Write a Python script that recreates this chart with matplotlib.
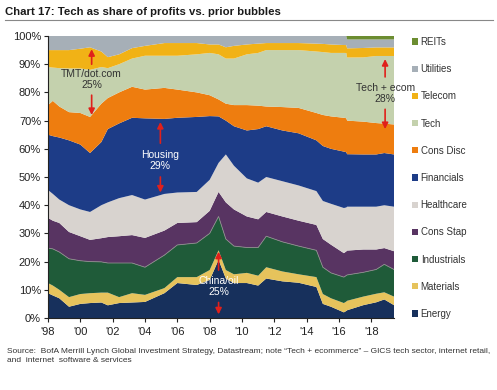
import numpy as np
import matplotlib
matplotlib.use("Agg")
import matplotlib.pyplot as plt
from matplotlib import font_manager

# ---------------- data (share of profits, %) ----------------
years = [1998.0, 1998.3, 1998.7, 1999.3, 2000.0, 2000.6, 2001.3, 2001.7, 2002.4,
         2003.2, 2004.0, 2005.2, 2006.0, 2007.2, 2008.0, 2008.55, 2009.0, 2009.5,
         2010.3, 2011.0, 2011.5, 2012.5, 2013.5, 2014.6, 2015.0, 2015.5, 2016.3,
         2016.45, 2016.5, 2017.5, 2018.3, 2018.8, 2019.4]

energy      = [8.8, 8.0, 7.0, 4.0, 5.0, 5.3, 5.5, 4.5, 5.3, 5.5, 5.7, 8.8, 12.4, 11.7, 13.5, 20.6, 14.0, 12.4,
               12.4, 11.5, 14.0, 13.0, 12.5, 11.0, 5.0, 4.0, 2.0, 2.5, 2.7, 4.5, 5.5, 6.5, 4.5]
materials   = [3.6, 3.5, 3.0, 3.4, 3.5, 3.5, 3.5, 4.5, 2.1, 3.3, 2.5, 1.8, 2.1, 2.8, 3.5, 3.4, 3.0, 3.1,
               3.6, 3.5, 4.0, 3.5, 3.0, 3.5, 3.5, 3.0, 3.3, 3.3, 3.3, 3.0, 3.0, 2.5, 3.0]
industrials = [12.4, 13.0, 13.4, 13.6, 11.8, 11.2, 10.9, 10.5, 12.1, 10.7, 9.8, 11.7, 11.4, 12.1, 13.0, 12.0, 11.0, 10.0,
               9.0, 10.0, 11.0, 10.5, 10.0, 9.5, 9.5, 9.0, 9.2, 9.2, 9.0, 8.5, 8.5, 9.8, 9.5]
cons_stap   = [10.7, 10.0, 10.3, 9.5, 8.7, 7.7, 8.4, 9.2, 9.5, 9.9, 10.4, 8.7, 7.8, 7.4, 8.0, 8.7, 13.0, 13.0,
               11.0, 10.0, 8.6, 9.0, 9.0, 9.0, 10.0, 10.0, 8.5, 8.5, 8.5, 8.0, 7.0, 5.7, 6.4]
healthcare  = [9.9, 9.5, 8.3, 9.5, 9.5, 9.9, 11.7, 12.3, 13.5, 14.2, 13.6, 13.0, 10.8, 10.7, 11.0, 10.3, 17.0, 15.5,
               13.5, 13.0, 12.4, 12.5, 12.5, 12.0, 13.5, 14.5, 16.0, 15.5, 15.3, 15.0, 15.0, 15.0, 15.6]
financials  = [19.6, 20.5, 22.0, 23.0, 23.0, 20.9, 22.4, 26.0, 26.5, 27.4, 28.8, 26.6, 26.5, 26.6, 22.6, 16.5, 12.0, 14.0,
               17.0, 19.0, 18.0, 18.0, 18.5, 18.0, 19.5, 19.5, 20.0, 19.5, 18.3, 18.3, 18.3, 18.3, 18.3]
cons_disc   = [10.5, 12.5, 11.0, 10.0, 11.2, 12.8, 13.6, 11.0, 11.0, 11.0, 10.2, 11.0, 10.0, 8.7, 7.4, 6.0, 6.0, 7.5,
               9.0, 8.3, 7.0, 8.3, 9.0, 9.7, 11.0, 11.5, 12.0, 12.0, 11.7, 11.5, 11.0, 10.3, 10.5]
tech        = [13.5, 11.8, 13.6, 15.5, 15.8, 16.7, 13.0, 10.6, 10.0, 10.0, 12.0, 11.4, 12.0, 13.5, 15.0, 16.0, 16.0, 16.5,
               18.0, 18.7, 20.0, 20.2, 20.5, 21.8, 22.3, 22.5, 23.0, 23.0, 22.0, 22.5, 23.5, 23.7, 24.0]
telecom     = [6.0, 6.2, 6.4, 6.5, 7.0, 8.0, 5.5, 3.9, 3.5, 3.7, 3.5, 4.5, 4.5, 4.0, 3.0, 3.5, 4.0, 4.5,
               3.5, 3.3, 2.5, 2.5, 2.5, 2.8, 2.9, 3.0, 2.8, 2.8, 3.2, 3.3, 3.0, 3.0, 3.0]
utilities   = [5.0, 5.0, 5.0, 5.0, 4.5, 4.0, 5.5, 7.5, 6.5, 4.3, 3.5, 2.5, 2.5, 2.5, 3.0, 3.0, 4.0, 3.5,
               3.0, 2.7, 2.5, 2.5, 2.5, 2.7, 2.8, 3.0, 3.2, 3.2, 3.1, 3.0, 2.8, 2.8, 2.8]
reits       = [0, 0, 0, 0, 0, 0, 0, 0, 0, 0, 0, 0, 0, 0, 0, 0, 0, 0,
               0, 0, 0, 0, 0, 0, 0, 0, 0, 0, 1.2, 1.2, 1.2, 1.2, 1.2]

sector_names = ["Energy", "Materials", "Industrials", "Cons Stap", "Healthcare", "Financials",
                "Cons Disc", "Tech", "Telecom", "Utilities", "REITs"]
sector_colors = ["#17305c", "#e6c35c", "#1f5b39", "#583462", "#d8d3cf", "#1d3c87",
                 "#ee7d0f", "#c4d1ad", "#f1b216", "#a6afb7", "#6c8d31"]

xtick_vals = [1998, 2000, 2002, 2004, 2006, 2008, 2010, 2012, 2014, 2016, 2018]
xtick_labels = ["'98", "'00", "'02", "'04", "'06", "'08", "'10", "'12", "'14", "'16", "'18"]

# ---------------- fonts ----------------
avail = {f.name for f in font_manager.fontManager.ttflist}
narrow = "Liberation Sans Narrow" if "Liberation Sans Narrow" in avail else "Liberation Sans"
plt.rcParams['font.family'] = [narrow, 'DejaVu Sans']

series = [energy, materials, industrials, cons_stap, healthcare, financials,
          cons_disc, tech, telecom, utilities, reits]
# normalise each date to 100%
arr = np.array(series, dtype=float)
arr = arr / arr.sum(axis=0) * 100.0

fig = plt.figure(figsize=(4.97, 3.90), dpi=100)
ax = fig.add_axes([48/497, 1-318/390, (394-48)/497, (318-36)/390])

polys = ax.stackplot(years, arr, colors=sector_colors, linewidth=0, edgecolor='none')
# thin grey separator between Industrials and Cons Stap
cum = np.cumsum(arr, axis=0)
ax.plot(years, cum[2], color='#8c8c8c', lw=0.6)

ax.set_xlim(1998, years[-1])
ax.set_ylim(0, 100)
ax.set_yticks(np.arange(0, 101, 10))
ax.set_yticklabels([f"{v}%" for v in range(0, 101, 10)])
ax.set_xticks(xtick_vals)
ax.set_xticklabels(xtick_labels)
ax.tick_params(axis='both', labelsize=8, colors='#222222', length=3, width=0.8)
ax.tick_params(axis='y', pad=2)
for s in ['top', 'right']:
    ax.spines[s].set_visible(False)
for s in ['left', 'bottom']:
    ax.spines[s].set_color('#222222')
    ax.spines[s].set_linewidth(0.8)

# legend (REITs at top)
handles = list(reversed(polys))
labels = list(reversed(sector_names))
leg = fig.legend(handles, labels, loc='upper left', bbox_to_anchor=(408/497, 1-33/390),
                 frameon=False, fontsize=7, handlelength=0.6, handleheight=0.6,
                 handletextpad=0.3, labelspacing=1.77, borderaxespad=0)
for t in leg.get_texts():
    t.set_color('#333333')

# annotations
red = '#e0201b'
def arrow(x, y0, y1):
    ax.annotate('', xy=(x, y1), xytext=(x, y0),
                arrowprops=dict(arrowstyle='-|>', color=red, lw=1.2, mutation_scale=9))

ax.text(2000.7, 84.5, "TMT/dot.com\n25%", ha='center', va='center', fontsize=7.5,
        color='#333333', linespacing=1.1)
arrow(2000.7, 89, 96.3)
arrow(2000.7, 80, 71.0)

ax.text(2004.95, 55.8, "Housing\n29%", ha='center', va='center', fontsize=7.5,
        color='white', linespacing=1.1)
arrow(2004.95, 61, 70.5)
arrow(2004.95, 51, 43.5)

ax.text(2008.55, 11.2, "China/oil\n25%", ha='center', va='center', fontsize=7.5,
        color='white', linespacing=1.1)
arrow(2008.55, 16, 24.5)
arrow(2008.55, 6.5, 0.3)

ax.text(2018.85, 79.5, "Tech + ecom\n28%", ha='center', va='center', fontsize=7.5,
        color='#333333', linespacing=1.1)
arrow(2018.85, 84.5, 92.8)
arrow(2018.85, 75, 66.0)

# title and rule
fig.text(5/497, 1-12/390, "Chart 17: Tech as share of profits vs. prior bubbles",
         fontsize=8.2, fontweight='bold', color='#1a1a1a', va='center', ha='left',
         family=['Liberation Sans', 'DejaVu Sans'])
fig.add_artist(plt.Line2D([5/497, 493/497], [1-20/390, 1-20/390], color='#888888', lw=0.8))

fig.text(7/497, 1-356/390,
         "Source:  BofA Merrill Lynch Global Investment Strategy, Datastream; note \u201cTech + ecommerce\u201d \u2013 GICS tech sector, internet retail,\nand  internet  software & services",
         fontsize=6, color='#333333', va='center', ha='left', linespacing=1.5)

fig.savefig("out.png", dpi=100)
